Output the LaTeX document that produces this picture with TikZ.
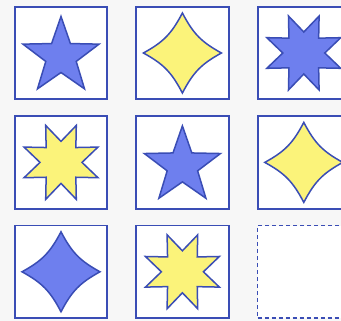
\documentclass[tikz,border=0pt]{standalone}
\usepackage{xcolor}
\usepackage{tikz}
\usetikzlibrary{positioning}

\definecolor{edgeblue}{HTML}{3A4DB5}
\definecolor{starblue}{HTML}{6E7FEE}
\definecolor{staryellow}{HTML}{FBF37A}
\definecolor{paper}{HTML}{F7F7F7}

\begin{document}
\begin{tikzpicture}[x=1pt,y=1pt,
    cell/.style={rectangle,draw=edgeblue,line width=1.9pt,fill=white,minimum size=92.5pt,inner sep=0pt},
    blank/.style={cell,line width=1.8pt,dash pattern=on 4pt off 3pt},
    star line/.style={draw=edgeblue,line width=1.5pt},
    pics/fivestar/.style={code={
        \path[star line,fill=#1,shift={(0,-3.5)}] (90:40)
            \foreach \k in {0,...,4} {-- (126+72*\k:16) -- (162+72*\k:40)} -- cycle;}},
    pics/fourstar/.style={code={
        \path[star line,fill=#1] (0,40) .. controls (11,19) and (19,11) .. (39,0)
            .. controls (19,-11) and (11,-19) .. (0,-40)
            .. controls (-11,-19) and (-19,-11) .. (-39,0)
            .. controls (-19,11) and (-11,19) .. (0,40) -- cycle;}},
    pics/eightstar/.style={code={
        \path[star line,fill=#1] (0:21)
            \foreach \k in {0,...,7} {-- (22.5+45*\k:40) -- (45+45*\k:21)} -- cycle;}}]
    \clip (0,0) rectangle (341,321);
    \fill[paper] (0,0) rectangle (341,321);

    \node[cell] (c11) at (61,268) {};
    \node[cell] (c12) [right=27pt of c11] {};
    \node[cell] (c13) [right=27pt of c12] {};
    \node[cell] (c21) [below=15pt of c11] {};
    \node[cell] (c22) [right=27pt of c21] {};
    \node[cell] (c23) [right=27pt of c22] {};
    \node[cell] (c31) [below=15pt of c21] {};
    \node[cell] (c32) [right=27pt of c31] {};
    \node[blank] (c33) [right=27pt of c32] {};

    \pic at (c11) {fivestar=starblue};
    \pic at (c12) {fourstar=staryellow};
    \pic at (c13) {eightstar=starblue};
    \pic at (c21) {eightstar=staryellow};
    \pic at (c22) {fivestar=starblue};
    \pic at (c23) {fourstar=staryellow};
    \pic at (c31) {fourstar=starblue};
    \pic at (c32) {eightstar=staryellow};

\end{tikzpicture}
\end{document}
